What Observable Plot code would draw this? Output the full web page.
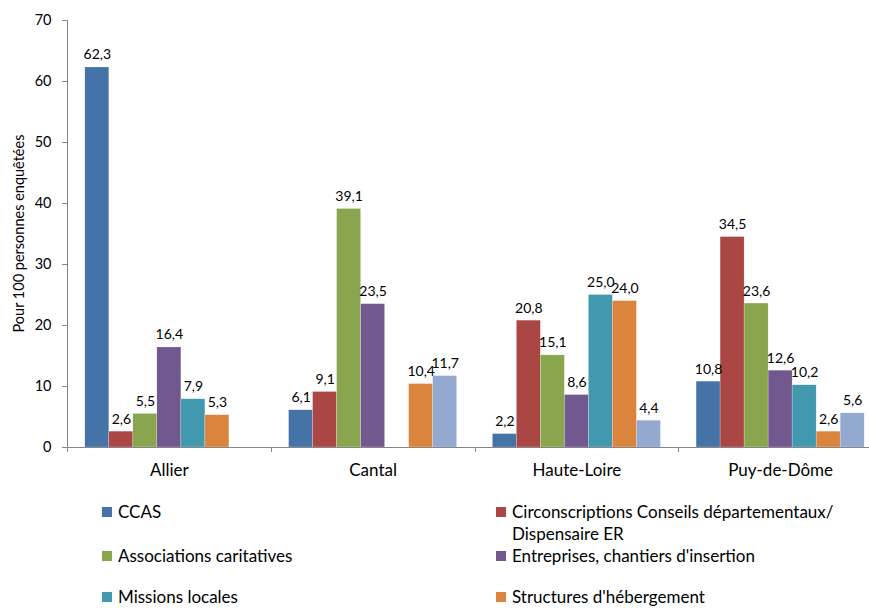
<!DOCTYPE html>
<html><head><meta charset="utf-8">
<script src="https://cdn.jsdelivr.net/npm/d3@7"></script>
<script src="https://cdn.jsdelivr.net/npm/@observablehq/plot@0.6"></script>
<style>
body{margin:0;background:#fff;font-family:Lato,sans-serif;}
#wrap{position:relative;width:869px;height:608px;overflow:hidden;background:#fff;}
#chart{position:absolute;left:0;top:0;}
.leg{position:absolute;font-size:17px;line-height:22px;color:#000;white-space:nowrap;}
.sw{position:absolute;width:10px;height:10px;}
</style></head><body><div id="wrap"><div id="chart"></div></div>
<script>
// ---- data ----
const groups = ["Allier", "Cantal", "Haute-Loire", "Puy-de-Dôme"];
const seriesNames = ["CCAS", "Circonscriptions Conseils départementaux/ Dispensaire ER", "Associations caritatives", "Entreprises, chantiers d'insertion", "Missions locales", "Structures d'hébergement", "Autres"];
const seriesColors = ["#4572A7", "#AA4643", "#89A54E", "#71588F", "#4198AF", "#DB843D", "#93A9CF"];
const ccas = [62.3, 6.1, 2.2, 10.8];
const circonscriptions = [2.6, 9.1, 20.8, 34.5];
const associations = [5.5, 39.1, 15.1, 23.6];
const entreprises = [16.4, 23.5, 8.6, 12.6];
const missions = [7.9, null, 25.0, 10.2];
const structures = [5.3, 10.4, 24.0, 2.6];
const autres = [null, 11.7, 4.4, 5.6];
const yTicks = [0, 10, 20, 30, 40, 50, 60, 70];
const yLabel = "Pour 100 personnes enquêtées";
const legendLabels = ["CCAS", "Circonscriptions Conseils départementaux/\nDispensaire ER", "Associations caritatives", "Entreprises, chantiers d'insertion", "Missions locales", "Structures d'hébergement"];

const seriesValues = [ccas, circonscriptions, associations, entreprises, missions, structures, autres];
const data = [];
groups.forEach((g, gi) => seriesNames.forEach((s, si) => {
  const v = seriesValues[si][gi];
  if (v != null) data.push({group: g, series: s, value: v});
}));
const fmt = v => v.toFixed(1).replace(".", ",");

// ---- layout ----
const W = 882, H = 490, mL = 67, mR = 0, mT = 20, mB = 43;
const pInner = 0.175, pOuter = pInner / 2;
const step = (W - mL - mR) / (groups.length - pInner + 2 * pOuter);
const outerOffset = pOuter * step;

const plot = Plot.plot({
  width: W, height: H,
  marginLeft: mL, marginRight: mR, marginTop: mT, marginBottom: mB,
  style: {fontFamily: "Lato, sans-serif", background: "transparent", maxWidth: "none"},
  fx: {domain: groups, paddingInner: pInner, paddingOuter: pOuter, round: false, label: null},
  x: {domain: seriesNames, padding: 0, round: false, axis: null},
  y: {domain: [0, 70], label: null},
  color: {domain: seriesNames, range: seriesColors},
  marks: [
    Plot.axisFx({anchor: "bottom", tickSize: 0, tickPadding: 16, fontSize: 17, fill: "#000", label: null}),
    Plot.axisY({ticks: yTicks, tickSize: 5, tickPadding: 11, fontSize: 14.5, fill: "#000", stroke: "#868686", strokeOpacity: 1, dx: -outerOffset, label: null}),
    Plot.barY(data, {fx: "group", x: "series", y: "value", fill: "series", inset: 0, stroke: "#fff", strokeWidth: 0.4, strokeOpacity: 0.6}),
    Plot.text(data, {fx: "group", x: "series", y: "value", text: d => fmt(d.value), dy: -8, lineAnchor: "bottom", fontSize: 14, fill: "#000"})
  ]
});
plot.style.maxWidth = "none";
document.getElementById("chart").appendChild(plot);

// axis lines & boundary ticks (Excel-style) from the plot's own scales
const svg = d3.select(plot);
const ys = plot.scale("y");
const y0 = ys.apply(0), yTop = ys.apply(70);
const xLeft = mL, xRight = mL + groups.length * step;
const axG = svg.append("g").attr("stroke", "#868686").attr("stroke-width", 1);
axG.append("line").attr("x1", xLeft + 0.5).attr("x2", xLeft + 0.5).attr("y1", yTop).attr("y2", y0);
axG.append("line").attr("x1", xLeft).attr("x2", xRight).attr("y1", y0 + 0.5).attr("y2", y0 + 0.5);
for (let i = 0; i <= groups.length; i++) {
  const x = Math.round(xLeft + i * step) + 0.5;
  axG.append("line").attr("x1", x).attr("x2", x).attr("y1", y0).attr("y2", y0 + 5);
}
svg.append("text")
  .attr("transform", `translate(24,${(yTop + y0) / 2}) rotate(-90)`)
  .attr("text-anchor", "middle").attr("font-size", 14.5).attr("fill", "#000")
  .attr("font-family", "Lato, sans-serif").text(yLabel);

// legend
const wrap = document.getElementById("wrap");
const cols = [{sx: 102, tx: 118}, {sx: 496, tx: 512}];
const rowsY = [512, 556, 597];
legendLabels.forEach((lab, i) => {
  const c = cols[i % 2], cy = rowsY[Math.floor(i / 2)];
  const sw = document.createElement("div");
  sw.className = "sw";
  sw.style.left = c.sx + "px"; sw.style.top = (cy - 5) + "px";
  sw.style.background = seriesColors[i];
  wrap.appendChild(sw);
  const t = document.createElement("div");
  t.className = "leg";
  t.style.left = c.tx + "px"; t.style.top = (cy - 11) + "px";
  t.innerHTML = lab.split("\n").join("<br>");
  wrap.appendChild(t);
});
</script></body></html>
